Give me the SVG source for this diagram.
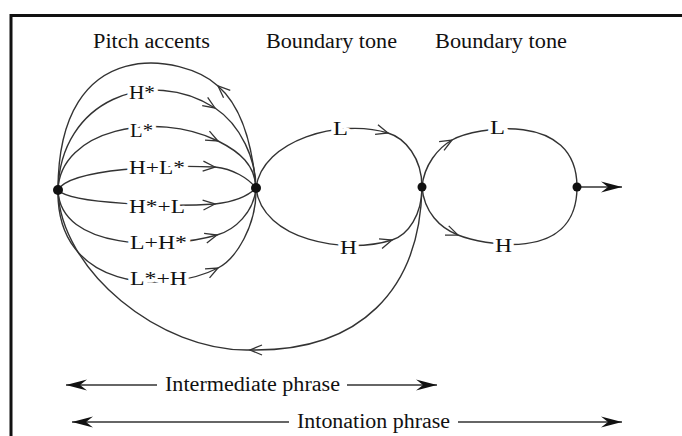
<svg xmlns="http://www.w3.org/2000/svg" width="682" height="436" viewBox="0 0 682 436">
<style>
.arc{fill:none;stroke:#333;stroke-width:1.4}
.lbl{font-family:"Liberation Serif",serif;font-size:19px;fill:#111;stroke:#fff;stroke-width:7;paint-order:stroke;stroke-linejoin:round}
.ttl{font-family:"Liberation Serif",serif;font-size:20px;fill:#111}
.ph{font-family:"Liberation Serif",serif;font-size:20px;fill:#111}
.node{fill:#111}
.dl{fill:none;stroke:#333;stroke-width:1.3}
</style>
<defs>
<marker id="v" markerUnits="userSpaceOnUse" markerWidth="16" markerHeight="16" refX="0" refY="0" orient="auto" overflow="visible">
<path d="M-12,-5 L0,0 L-12,5" fill="none" stroke="#333" stroke-width="1.3"/>
</marker>
<marker id="dart" markerUnits="userSpaceOnUse" markerWidth="24" markerHeight="14" refX="0" refY="0" orient="auto-start-reverse" overflow="visible">
<path d="M0,0 L-21,-5.5 L-14,0 L-21,5.5 Z" fill="#111"/>
</marker>
</defs>
<rect width="682" height="436" fill="#fff"/>
<path d="M11,436 V15.5 H682" fill="none" stroke="#111" stroke-width="3"/>
<g id="titles">
<text class="ttl" x="93" y="48" textLength="117" lengthAdjust="spacingAndGlyphs">Pitch accents</text>
<text class="ttl" x="266" y="48" textLength="131" lengthAdjust="spacingAndGlyphs">Boundary tone</text>
<text class="ttl" x="435" y="48" textLength="132" lengthAdjust="spacingAndGlyphs">Boundary tone</text>
</g>
<g id="connectors">
<path class="arc" marker-mid="url(#v)" d="M256,188 C252,140 240,105 218,86 C185,55 58,30 58,190"/>
<path class="arc" marker-mid="url(#v)" d="M58,190 C60,100 150,66 215,108 C241,125 256,160 256,188"/>
<path class="arc" marker-mid="url(#v)" d="M58,190 C60,130 155,110 218,141 C240,152 255,165 256,188"/>
<path class="arc" marker-mid="url(#v)" d="M58,190 C70,168 170,165 215,167 C233,169 248,178 256,188"/>
<path class="arc" marker-mid="url(#v)" d="M58,190 C70,204 170,207 215,204 C233,202 248,196 256,188"/>
<path class="arc" marker-mid="url(#v)" d="M58,190 C60,250 165,250 217,235 C235,230 254,212 256,188"/>
<path class="arc" marker-mid="url(#v)" d="M58,190 C56,290 165,295 218,268 C236,259 257,225 256,188"/>
<path class="arc" marker-mid="url(#v)" d="M422,187 C420,290 360,352 250,350 C160,352 60,270 58,190"/>
<path class="arc" marker-mid="url(#v)" d="M256,188 C262,140 340,118 388,133 C405,138 422,158 422,187"/>
<path class="arc" marker-mid="url(#v)" d="M256,188 C262,240 345,255 392,240 C408,235 422,215 422,187"/>
<path class="arc" marker-mid="url(#v)" d="M422,187 C424,165 438,148 452,140 C475,127 577,110 577,187"/>
<path class="arc" marker-mid="url(#v)" d="M422,187 C424,212 440,228 458,235 C480,244 577,265 577,187"/>
<path class="dl" marker-end="url(#dart)" d="M577,187 H622"/>
</g>
<g id="labels">
<text class="lbl" x="129" y="98.5" textLength="26" lengthAdjust="spacingAndGlyphs">H*</text>
<text class="lbl" x="130" y="136.5" textLength="23" lengthAdjust="spacingAndGlyphs">L*</text>
<text class="lbl" x="129" y="173.5" textLength="56" lengthAdjust="spacingAndGlyphs">H+L*</text>
<text class="lbl" x="129" y="212.5" textLength="56" lengthAdjust="spacingAndGlyphs">H*+L</text>
<text class="lbl" x="130" y="248.5" textLength="57" lengthAdjust="spacingAndGlyphs">L+H*</text>
<text class="lbl" x="130" y="284.5" textLength="57" lengthAdjust="spacingAndGlyphs">L*+H</text>
<text class="lbl" x="333" y="134.5" textLength="15" lengthAdjust="spacingAndGlyphs">L</text>
<text class="lbl" x="340" y="253.5" textLength="17" lengthAdjust="spacingAndGlyphs">H</text>
<text class="lbl" x="490" y="133.5" textLength="15" lengthAdjust="spacingAndGlyphs">L</text>
<text class="lbl" x="495" y="251.5" textLength="17" lengthAdjust="spacingAndGlyphs">H</text>
</g>
<g id="nodeA"><circle class="node" cx="58" cy="190" r="5"/></g>
<g id="nodeB"><circle class="node" cx="256" cy="188" r="5"/></g>
<g id="nodeC"><circle class="node" cx="422" cy="187" r="4.5"/></g>
<g id="nodeD"><circle class="node" cx="577" cy="187" r="4.5"/></g>
<g id="phrases">
<path class="dl" marker-start="url(#dart)" d="M66,385 H157"/>
<path class="dl" marker-end="url(#dart)" d="M347,385 H437"/>
<text class="ph" x="165" y="391" textLength="175" lengthAdjust="spacingAndGlyphs">Intermediate phrase</text>
<path class="dl" marker-start="url(#dart)" d="M72,422 H289"/>
<path class="dl" marker-end="url(#dart)" d="M458,422 H622"/>
<text class="ph" x="297" y="428" textLength="153" lengthAdjust="spacingAndGlyphs">Intonation phrase</text>
</g>
</svg>
